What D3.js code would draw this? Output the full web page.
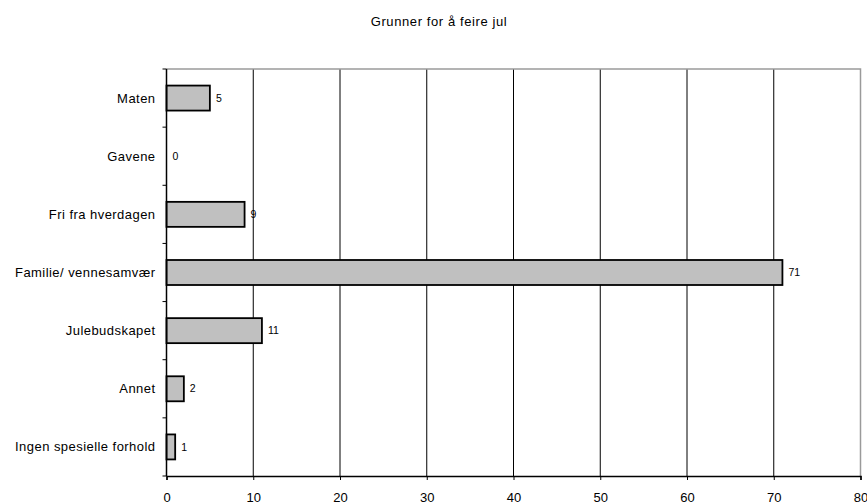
<!DOCTYPE html>
<html>
<head>
<meta charset="utf-8">
<script src="https://cdn.jsdelivr.net/npm/d3@7"></script>
<style>
  body { margin: 0; background: #fff; }
  svg { display: block; font-family: "Liberation Sans", Arial, sans-serif; }
</style>
</head>
<body>
<svg id="chart" width="867" height="504"></svg>
<script>
const title = "Grunner for å feire jul";
const categories = ["Maten", "Gavene", "Fri fra hverdagen", "Familie/ vennesamvær", "Julebudskapet", "Annet", "Ingen spesielle forhold"];
const values = [5, 0, 9, 71, 11, 2, 1];
const xTicks = [0, 10, 20, 30, 40, 50, 60, 70, 80];

(function () {
const svg = d3.select("#chart");
const pLeft = 166.5, pRight = 860.5, pTop = 69, pBottom = 476;

const x = d3.scaleLinear().domain([0, 80]).range([pLeft, pRight]);
const y = d3.scaleBand().domain(categories).range([pTop, pBottom]).paddingInner(0.57).paddingOuter(0.285);
const yEdges = d3.scaleLinear().domain([0, categories.length]).range([pTop, pBottom]);

// title
svg.append("text")
  .attr("x", 439).attr("y", 26)
  .attr("text-anchor", "middle")
  .attr("font-size", 13)
  .attr("letter-spacing", 0.6)
  .attr("fill", "#000")
  .text(title);

// gridlines
svg.append("g").selectAll("line")
  .data(xTicks.filter(d => d > 0 && d < 80))
  .join("line")
  .attr("x1", d => x(d)).attr("x2", d => x(d))
  .attr("y1", pTop).attr("y2", pBottom)
  .attr("stroke", "#000").attr("stroke-width", 1);

// top & right border (gray)
svg.append("path")
  .attr("d", `M${pLeft},${pTop}H${pRight}V${pBottom}`)
  .attr("fill", "none").attr("stroke", "#9a9a9a").attr("stroke-width", 1.5);

const rows = values.map((v, i) => ({ c: categories[i], v }));

// bars
svg.append("g").selectAll("rect")
  .data(rows.filter(d => d.v > 0))
  .join("rect")
  .attr("x", x(0))
  .attr("y", d => y(d.c))
  .attr("width", d => x(d.v) - x(0))
  .attr("height", y.bandwidth())
  .attr("fill", "#c0c0c0")
  .attr("stroke", "#000")
  .attr("stroke-width", 1.8);

// value labels
svg.append("g").selectAll("text")
  .data(rows)
  .join("text")
  .attr("x", d => x(d.v) + 6)
  .attr("y", d => y(d.c) + y.bandwidth() / 2)
  .attr("dy", "0.35em")
  .attr("font-size", 10.5)
  .attr("fill", "#000")
  .text(d => d.v);

// x axis
const xAxis = d3.axisBottom(x).tickValues(xTicks).tickSize(4).tickPadding(13).tickFormat(d3.format("d"));
const gx = svg.append("g").attr("transform", `translate(0,${pBottom})`).call(xAxis);
gx.select(".domain").attr("stroke", "#000").attr("stroke-width", 1.5);
gx.selectAll(".tick line").attr("stroke", "#000");
gx.selectAll(".tick text").attr("font-size", 13).attr("fill", "#000").attr("font-family", "Liberation Sans, Arial, sans-serif");

// y axis: line + boundary ticks
svg.append("line")
  .attr("x1", pLeft).attr("x2", pLeft).attr("y1", pTop).attr("y2", pBottom)
  .attr("stroke", "#000").attr("stroke-width", 1.5);
svg.append("g").selectAll("line")
  .data(d3.range(categories.length + 1))
  .join("line")
  .attr("x1", pLeft - 4).attr("x2", pLeft)
  .attr("y1", d => yEdges(d)).attr("y2", d => yEdges(d))
  .attr("stroke", "#000");

svg.append("g").selectAll("text")
  .data(categories)
  .join("text")
  .attr("x", pLeft - 11)
  .attr("y", d => y(d) + y.bandwidth() / 2)
  .attr("dy", "0.35em")
  .attr("text-anchor", "end")
  .attr("font-size", 13)
  .attr("letter-spacing", 0.45)
  .attr("fill", "#000")
  .text(d => d);
})();
</script>
</body>
</html>
